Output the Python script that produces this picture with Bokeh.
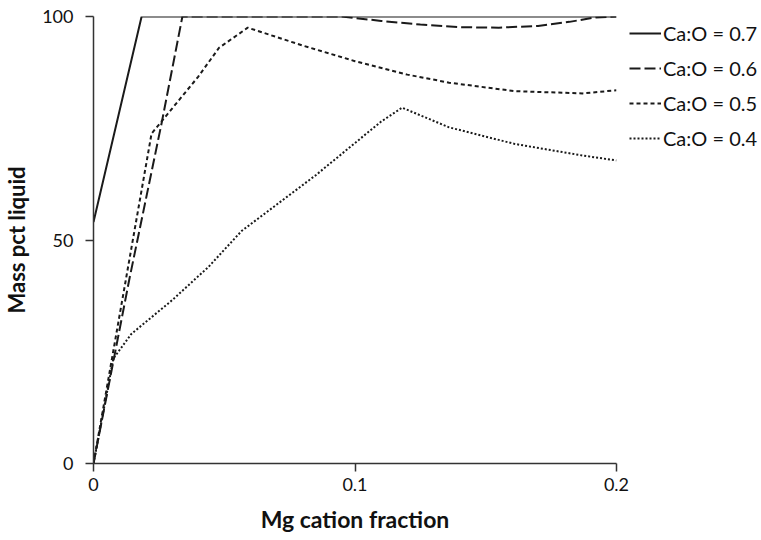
from bokeh.plotting import figure
from bokeh.models import Legend, LegendItem, FixedTicker, Range1d
from bokeh.embed import file_html
from bokeh.resources import INLINE

# Data
x_07 = [0.0, 0.0184, 0.2]
y_07 = [54.0, 100.0, 100.0]

x_06 = [0.0, 0.0138, 0.026, 0.034, 0.095, 0.11, 0.125, 0.14, 0.155, 0.17, 0.182, 0.192, 0.2]
y_06 = [0.0, 41.5, 76.0, 100.0, 100.0, 99.0, 98.2, 97.6, 97.5, 97.9, 98.8, 99.8, 100.0]

x_05 = [0.0, 0.0222, 0.040, 0.048, 0.059, 0.08, 0.1, 0.12, 0.136, 0.161, 0.187, 0.2]
y_05 = [0.0, 73.8, 86.5, 93.0, 97.5, 93.5, 90.0, 87.0, 85.2, 83.3, 82.8, 83.5]

x_04 = [0.0, 0.0076, 0.0145, 0.03, 0.044, 0.0566, 0.085, 0.11, 0.118, 0.136, 0.161, 0.187, 0.2]
y_04 = [0.0, 23.5, 29.0, 36.5, 44.0, 52.0, 64.5, 76.5, 79.6, 75.2, 71.5, 68.9, 67.8]

series_labels = ["Ca:O = 0.7", "Ca:O = 0.6", "Ca:O = 0.5", "Ca:O = 0.4"]
x_ticks = [0, 0.1, 0.2]
y_ticks = [0, 50, 100]

FONT = "Lato"

p = figure(frame_width=523, frame_height=447, output_backend="svg", toolbar_location=None,
           x_range=Range1d(0, 0.2), y_range=Range1d(0, 100),
           min_border_left=92, min_border_right=140, min_border_top=16, min_border_bottom=69)
p.outline_line_color = None
p.xgrid.visible = False
p.ygrid.visible = False
p.background_fill_color = "white"
p.border_fill_color = "white"

ink = "#1a1a1a"
r07 = p.line(x_07, y_07, line_color=ink, line_width=2)
r06 = p.line(x_06, y_06, line_color=ink, line_width=2, line_dash="11 4")
r05 = p.line(x_05, y_05, line_color=ink, line_width=2, line_dash="4 3")
r04 = p.line(x_04, y_04, line_color=ink, line_width=2, line_dash="2 2")

for ax in (p.xaxis[0], p.yaxis[0]):
    ax.axis_line_color = "#333333"
    ax.axis_line_width = 1.5
    ax.major_tick_line_color = "#333333"
    ax.major_tick_line_width = 1.5
    ax.major_tick_in = 0
    ax.major_tick_out = 8
    ax.minor_tick_line_color = None
    ax.major_label_text_font = FONT
    ax.major_label_text_font_size = "18px"
    ax.major_label_text_color = "#111111"
    ax.axis_label_text_font = FONT
    ax.axis_label_text_font_style = "bold"
    ax.axis_label_text_color = "#111111"

p.xaxis.axis_label_text_font_size = "23px"
p.yaxis.axis_label_text_font_size = "22px"
p.xaxis.ticker = FixedTicker(ticks=x_ticks)
p.yaxis.ticker = FixedTicker(ticks=y_ticks)
p.xaxis.major_label_overrides = {0: "0", 0.1: "0.1", 0.2: "0.2"}
p.yaxis.major_label_overrides = {0: "0", 50: "50", 100: "100"}
p.xaxis.axis_label = "Mg cation fraction"
p.yaxis.axis_label = "Mass pct liquid"
p.xaxis.major_label_standoff = 6
p.xaxis.axis_label_standoff = 11
p.yaxis.major_label_standoff = 12
p.yaxis.axis_label_standoff = 9

legend = Legend(items=[LegendItem(label=lab, renderers=[r]) for lab, r in
                       zip(series_labels, [r07, r06, r05, r04])],
                location=(13, 313))
legend.border_line_color = None
legend.background_fill_alpha = 0
legend.label_text_font = FONT
legend.label_text_font_size = "20px"
legend.label_text_color = "#111111"
legend.glyph_width = 32
legend.glyph_height = 24
legend.label_height = 24
legend.spacing = 11
legend.label_standoff = 2
legend.padding = 0
legend.margin = 0
p.add_layout(legend, "right")

open("out.html", "w").write(file_html(p, INLINE))
